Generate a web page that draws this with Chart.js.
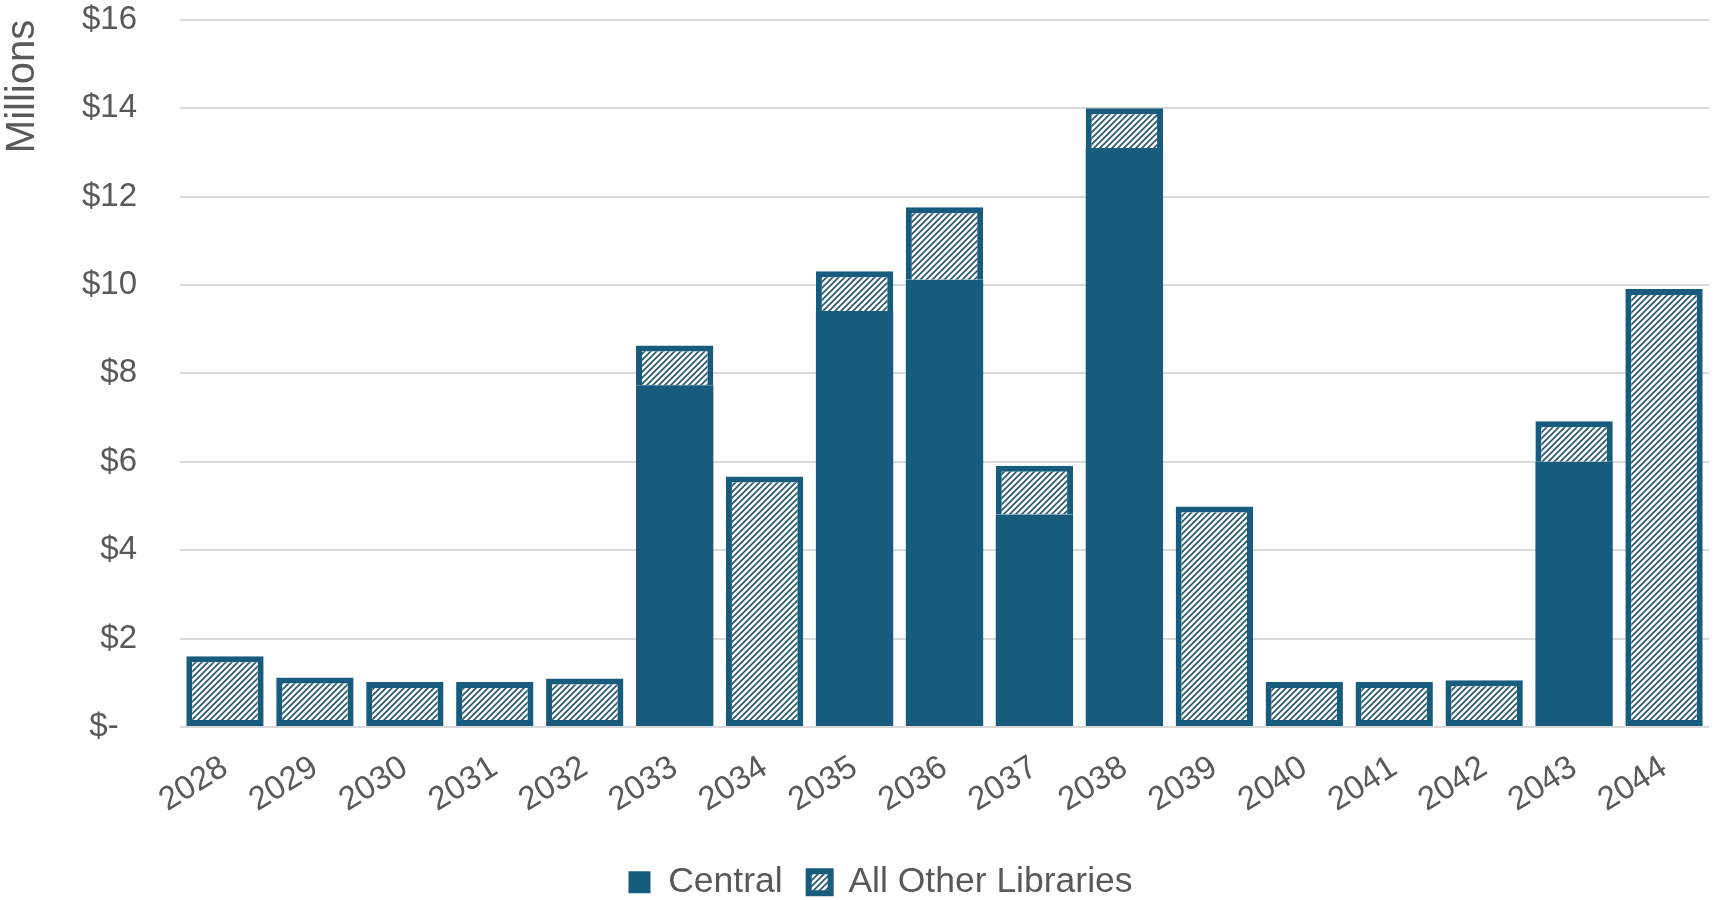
<!DOCTYPE html>
<html>
<head>
<meta charset="utf-8">
<script src="https://cdn.jsdelivr.net/npm/chart.js@4"></script>
<style>
  html, body { margin: 0; padding: 0; background: #fff; }
  canvas { display: block; }
</style>
</head>
<body>
<canvas id="myChart" width="1717" height="900"></canvas>
<script>
const years = ['2028', '2029', '2030', '2031', '2032', '2033', '2034', '2035', '2036',
  '2037', '2038', '2039', '2040', '2041', '2042', '2043', '2044'];
// $ millions
const central = [0, 0, 0, 0, 0, 7.73, 0, 9.41, 10.12, 4.81, 13.1, 0, 0, 0, 0, 6.0, 0];
const otherLibraries = [1.6, 1.12, 1.02, 1.02, 1.1, 0.9, 5.67, 0.9, 1.64, 1.1, 0.9, 4.99, 1.02, 1.02, 1.06, 0.92, 9.91];
const yTicks = [0, 2, 4, 6, 8, 10, 12, 14, 16];

const blue = '#175B7D';
const grey = '#595959';
const font = "'Liberation Sans', Arial, sans-serif";

function makeHatch() {
  const s = 6;
  const c = document.createElement('canvas');
  c.width = s;
  c.height = s;
  const g = c.getContext('2d');
  g.fillStyle = '#ffffff';
  g.fillRect(0, 0, s, s);
  g.strokeStyle = '#2a5a72';
  g.lineWidth = 1.7;
  g.beginPath();
  g.moveTo(-1, 1); g.lineTo(1, -1);
  g.moveTo(0, s); g.lineTo(s, 0);
  g.moveTo(s - 1, s + 1); g.lineTo(s + 1, s - 1);
  g.stroke();
  return g.createPattern(c, 'repeat');
}

document.addEventListener('DOMContentLoaded', function() {
  const ctx = document.getElementById('myChart').getContext('2d');
  const hatch = makeHatch();

  new Chart(ctx, {
    type: 'bar',
    data: {
      labels: years,
      datasets: [{
        label: 'Central',
        data: central,
        backgroundColor: blue,
        borderColor: blue,
        borderWidth: 0
      }, {
        label: 'All Other Libraries',
        data: otherLibraries,
        backgroundColor: hatch,
        borderColor: blue,
        borderWidth: 6,
        borderSkipped: function(c) {
          return central[c.dataIndex] > 0 ? 'start' : false;
        }
      }]
    },
    options: {
      responsive: false,
      animation: false,
      // left padding only pushes the legend over; y axis width is cut to match
      layout: { padding: { top: 0, right: 8, bottom: -10, left: 52 } },
      datasets: {
        bar: { categoryPercentage: 0.86, barPercentage: 1 }
      },
      plugins: {
        tooltip: { enabled: false },
        legend: {
          position: 'bottom',
          labels: {
            color: grey,
            font: { family: font, size: 35.5 },
            boxWidth: 22,
            boxHeight: 22,
            padding: 26
          }
        }
      },
      scales: {
        x: {
          stacked: true,
          grid: { display: false, drawTicks: false },
          border: { display: false },
          ticks: {
            color: grey,
            font: { family: font, size: 33 },
            autoSkip: false,
            minRotation: 32,
            maxRotation: 32,
            padding: 21
          },
          afterFit: function(scale) { scale.height = 111.5; }
        },
        y: {
          stacked: true,
          min: 0,
          max: 16,
          afterBuildTicks: function(scale) {
            scale.ticks = yTicks.map(v => ({ value: v }));
          },
          grid: {
            color: '#d9d9d9',
            lineWidth: 2,
            drawTicks: true,
            tickLength: 43,
            tickColor: 'rgba(0,0,0,0)'
          },
          border: { display: false },
          ticks: {
            color: grey,
            font: { family: font, size: 33 },
            padding: 0,
            callback: function(v) { return v === 0 ? '$-  ' : '$' + v; }
          },
          title: {
            display: true,
            text: 'Millions',
            align: 'end',
            color: grey,
            font: { family: font, size: 40 },
            padding: { top: -53, bottom: 0 }
          },
          afterFit: function(scale) { scale.width = 128; }
        }
      }
    }
  });
});
</script>
</body>
</html>
